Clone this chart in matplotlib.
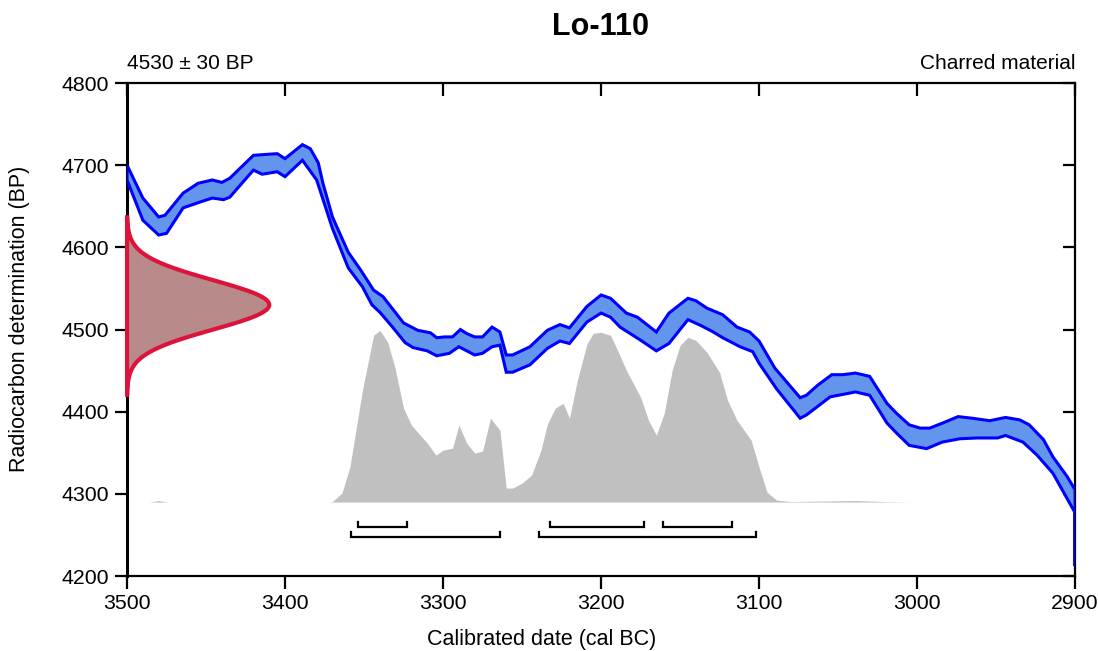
import matplotlib
matplotlib.use("Agg")
import matplotlib.pyplot as plt
import numpy as np

plt.rcParams['font.family'] = ['Liberation Sans', 'DejaVu Sans']

# Données
sample_name = "Lo-110"
c14_age = 4530
c14_err = 30
material = "Charred material"

# Courbe de calibration (bord haut / bord bas)
upper_year = [3500, 3490, 3480, 3476, 3464.5, 3455, 3446, 3440, 3435, 3420, 3405, 3400,
              3389, 3384, 3379, 3376, 3370, 3360, 3352, 3344, 3338, 3325, 3316, 3308,
              3304, 3299, 3294, 3289, 3285, 3280, 3275, 3269, 3264, 3260, 3256, 3245,
              3234, 3226, 3220, 3209, 3200, 3194, 3184, 3177, 3165, 3157, 3145, 3140,
              3133, 3123, 3114, 3106, 3100, 3090, 3074, 3070, 3063, 3054, 3047, 3039,
              3030, 3019, 3013, 3005, 2998, 2992, 2984, 2974, 2965, 2954, 2944, 2935,
              2929, 2920, 2914, 2905, 2900]
upper_bp = [4700, 4660, 4637, 4639, 4666, 4678, 4682, 4679, 4684, 4712, 4714, 4708,
            4725, 4720, 4703, 4678, 4637, 4594, 4572, 4548, 4540, 4508, 4499, 4496,
            4490, 4491, 4491, 4500, 4495, 4491, 4491, 4503, 4497, 4469, 4469, 4479,
            4499, 4506, 4502, 4528, 4542, 4538, 4520, 4515, 4497, 4520, 4538, 4535,
            4526, 4518, 4503, 4497, 4486, 4453, 4417, 4420, 4432, 4445, 4445, 4447,
            4443, 4410, 4398, 4384, 4380, 4380, 4386, 4394, 4392, 4389, 4393, 4390,
            4384, 4366, 4345, 4321, 4305]

lower_year = [3500, 3490, 3480, 3475, 3464.5, 3454, 3446, 3439, 3435, 3420, 3414.5, 3405,
              3400, 3389, 3380, 3370, 3360, 3351, 3345, 3340, 3332, 3324, 3319, 3310,
              3304, 3296, 3290, 3280, 3275, 3269, 3264, 3260, 3256, 3245, 3234, 3226,
              3220, 3209, 3200, 3194, 3188, 3175, 3165, 3157, 3145, 3137, 3129, 3123,
              3112, 3104, 3100, 3089, 3074, 3070, 3055, 3039, 3030, 3019, 3013, 3005,
              2994, 2984, 2973, 2962, 2949, 2944, 2933, 2924, 2914, 2900, 2900]
lower_bp = [4682, 4633, 4615, 4617, 4648, 4655, 4660, 4658, 4661, 4694, 4689, 4692,
            4686, 4706, 4682, 4623, 4575, 4552, 4530, 4521, 4503, 4484, 4478, 4474,
            4468, 4471, 4479, 4469, 4471, 4479, 4481, 4448, 4448, 4457, 4477, 4486,
            4483, 4509, 4520, 4515, 4503, 4487, 4474, 4483, 4512, 4505, 4497, 4490,
            4479, 4473, 4459, 4428, 4392, 4396, 4418, 4424, 4420, 4386, 4374, 4359,
            4355, 4363, 4367, 4368, 4368, 4371, 4363, 4347, 4325, 4277, 4212]

# Distribution calibrée (probabilité relative)
post_year = [3500, 3486, 3480, 3474, 3372, 3370, 3364, 3359, 3351, 3344, 3340, 3335,
             3330.5, 3325, 3320, 3310, 3304.5, 3300, 3294, 3290, 3285, 3280, 3275, 3270,
             3264, 3260, 3256, 3250, 3244, 3238, 3234, 3229, 3224, 3220, 3215, 3209,
             3205, 3200, 3194, 3189, 3184, 3175, 3170, 3165, 3160, 3155, 3150, 3145,
             3140, 3133, 3125, 3120, 3114, 3105, 3100, 3095, 3089, 3080, 3060, 3040,
             3020, 3004]
post_prob = [0, 0, 1.5, 0, 0, 0.5, 9, 35, 112, 167, 172, 160,
             135, 94, 77, 59, 47, 52, 54, 77, 59, 49, 51, 84,
             72, 14, 14, 19, 27, 52, 78, 94, 99, 84, 122, 158,
             169, 170, 167, 150, 132, 105, 82, 67, 89, 132, 157, 165,
             162, 150, 130, 102, 82, 62, 35, 10, 2, 0.5, 1, 1.5,
             0.5, 0]

# Intervalles 68.2% et 95.4%
ranges_68 = [(3354, 3323), (3232, 3173), (3161, 3117)]
ranges_95 = [(3358, 3264), (3239, 3102)]

# Figure
fig = plt.figure(figsize=(10.98, 6.51), dpi=100)
ax = fig.add_axes([0.1157, 0.1152, 0.8634, 0.7573])
ax.set_xlim(3500, 2900)
ax.set_ylim(4200, 4800)

# distribution calibrée
base = 4290
hmax = 209
p = np.array(post_prob) / max(post_prob)
ax.fill_between(post_year, base, base + p * hmax, color='#c0c0c0', lw=0, zorder=1)

# courbe de calibration
poly_x = list(upper_year) + list(lower_year[::-1])
poly_y = list(upper_bp) + list(lower_bp[::-1])
ax.fill(poly_x, poly_y, facecolor='#6495ed', edgecolor='#0000ff', lw=2.2, zorder=3,
        joinstyle='miter')

# date radiocarbone (gaussienne)
yy = np.linspace(c14_age - 3.65 * c14_err, c14_age + 3.55 * c14_err, 400)
g = np.exp(-(yy - c14_age) ** 2 / (2 * c14_err ** 2))
xx = 3500 - g * 90
ax.fill(np.r_[xx, 3500, 3500], np.r_[yy, yy[-1], yy[0]], facecolor='#b98a8a',
        edgecolor='#dc143c', lw=3, zorder=4, clip_on=False)

# crochets des intervalles
def bracket(a, b, y, h=6):
    ax.plot([a, a, b, b], [y + h, y, y, y + h], color='black', lw=1.6,
            solid_joinstyle='miter', zorder=5)

for a, b in ranges_68:
    bracket(a, b, 4260)
for a, b in ranges_95:
    bracket(a, b, 4247.5)

# axes
ax.set_xticks(np.arange(3500, 2899, -100))
ax.set_yticks(np.arange(4200, 4801, 100))
for s in ax.spines.values():
    s.set_linewidth(1.6)
ax.spines['left'].set_linewidth(2.2)
ax.tick_params(axis='both', direction='out', length=9, width=1.6, labelsize=15.3, pad=4)
ax.tick_params(axis='x', top=True, labeltop=False)
ax.tick_params(axis='y', right=True, labelright=False)
for t in ax.xaxis.get_major_ticks():
    t.tick2line.set_marker(3)  # vers le bas, à l'intérieur
    t.tick2line.set_markersize(9)
for t in ax.yaxis.get_major_ticks():
    t.tick2line.set_marker(0)  # vers la gauche, à l'intérieur
    t.tick2line.set_markersize(9)

fig.text(542 / 1098, 1 - 640 / 651, "Calibrated date (cal BC)", ha='center', va='center',
         fontsize=15.5)
fig.text(20 / 1098, 1 - 319 / 651, "Radiocarbon determination (BP)", ha='center',
         va='center', rotation=90, fontsize=15.5)
fig.text(601 / 1098, 1 - 27 / 651, sample_name, ha='center', va='center', fontsize=22,
         fontweight='bold')
ax.text(0, 1.02, f"{c14_age} \u00b1 {c14_err} BP", transform=ax.transAxes,
        ha='left', va='bottom', fontsize=15)
ax.text(1, 1.02, material, transform=ax.transAxes, ha='right', va='bottom', fontsize=15)

fig.savefig("out.png", dpi=100)
